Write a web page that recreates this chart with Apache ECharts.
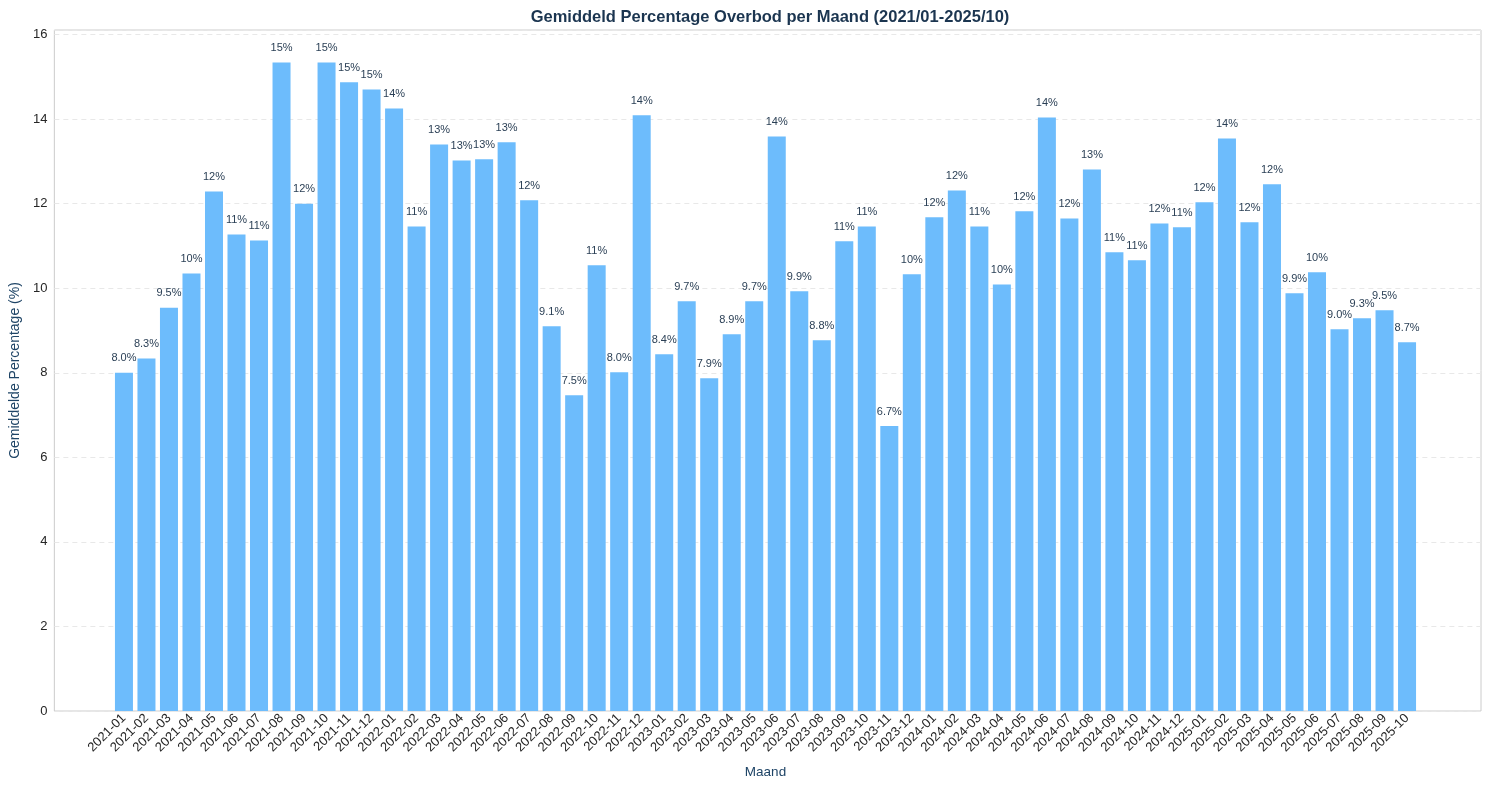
<!DOCTYPE html>
<html>
<head>
<meta charset="utf-8">
<script src="https://cdn.jsdelivr.net/npm/echarts@6/dist/echarts.min.js"></script>
<style>
html,body{margin:0;padding:0;background:#fff;}
#chart{width:1490px;height:791px;}
</style>
</head>
<body>
<div id="chart"></div>
<script>
const months = [
 '2021-01','2021-02','2021-03','2021-04','2021-05','2021-06','2021-07','2021-08','2021-09','2021-10','2021-11','2021-12',
 '2022-01','2022-02','2022-03','2022-04','2022-05','2022-06','2022-07','2022-08','2022-09','2022-10','2022-11','2022-12',
 '2023-01','2023-02','2023-03','2023-04','2023-05','2023-06','2023-07','2023-08','2023-09','2023-10','2023-11','2023-12',
 '2024-01','2024-02','2024-03','2024-04','2024-05','2024-06','2024-07','2024-08','2024-09','2024-10','2024-11','2024-12',
 '2025-01','2025-02','2025-03','2025-04','2025-05','2025-06','2025-07','2025-08','2025-09','2025-10'
];
const overbod = [
 8.00, 8.34, 9.54, 10.35, 12.29, 11.27, 11.13, 15.34, 12.00, 15.34, 14.87, 14.70,
 14.25, 11.46, 13.40, 13.02, 13.05, 13.45, 12.08, 9.10, 7.47, 10.54, 8.01, 14.09,
 8.44, 9.69, 7.87, 8.91, 9.69, 13.59, 9.93, 8.77, 11.11, 11.46, 6.74, 10.33,
 11.68, 12.31, 11.46, 10.09, 11.82, 14.04, 11.65, 12.81, 10.85, 10.66, 11.53, 11.44,
 12.03, 13.54, 11.56, 12.46, 9.88, 10.38, 9.03, 9.29, 9.48, 8.72
];
const yMin = 0;
const yMax = 16.107;
const yStep = 2;

const FONT = '"Liberation Sans", Arial, sans-serif';
const chart = echarts.init(document.getElementById('chart'));
chart.setOption({
  animation: false,
  backgroundColor: '#ffffff',
  textStyle: {fontFamily: FONT},
  title: {
    text: 'Gemiddeld Percentage Overbod per Maand (2021/01-2025/10)',
    left: 765, top: 4, textAlign: 'center',
    textStyle: {fontFamily: FONT, fontSize: 16.5, fontWeight: 'bold', color: '#1b3550'}
  },
  grid: [
    {left: 50, right: 9, top: 30, bottom: 80, show: true, borderColor: '#cccccc', borderWidth: 1, backgroundColor: 'transparent'},
    {left: 112.7, right: 71.7, top: 30, bottom: 80}
  ],
  xAxis: [
    {gridIndex: 0, type: 'value', show: false, min: 0, max: 1},
    {
      gridIndex: 1, type: 'category', data: months,
      axisLine: {show: false}, axisTick: {show: false},
      axisLabel: {rotate: 45, interval: 0, fontSize: 13, color: '#262626', margin: 5, fontFamily: FONT},
      name: 'Maand', nameLocation: 'middle', nameGap: 54,
      nameTextStyle: {fontSize: 13.5, color: '#1e4466', fontFamily: FONT}
    }
  ],
  yAxis: [
    {
      gridIndex: 0, type: 'value', min: yMin, max: yMax, interval: yStep,
      axisLine: {show: false}, axisTick: {show: false},
      axisLabel: {fontSize: 13, color: '#262626', margin: 7, fontFamily: FONT, showMaxLabel: false},
      splitLine: {show: true, lineStyle: {type: [5, 4], color: '#e8e8e8', width: 1}},
      name: 'Gemiddelde Percentage (%)', nameLocation: 'middle', nameGap: 27,
      nameTextStyle: {fontSize: 14, color: '#1e4466', fontFamily: FONT}
    },
    {gridIndex: 1, type: 'value', min: yMin, max: yMax, show: false}
  ],
  series: [{
    type: 'bar', xAxisIndex: 1, yAxisIndex: 1,
    data: overbod,
    barCategoryGap: '20%',
    itemStyle: {color: '#6dbcfc'},
    label: {
      show: true, position: 'top', distance: 9,
      fontSize: 11, color: '#2a3f55', fontFamily: FONT,
      formatter: p => Number(p.value).toPrecision(2) + '%'
    }
  }]
});
</script>
</body>
</html>
